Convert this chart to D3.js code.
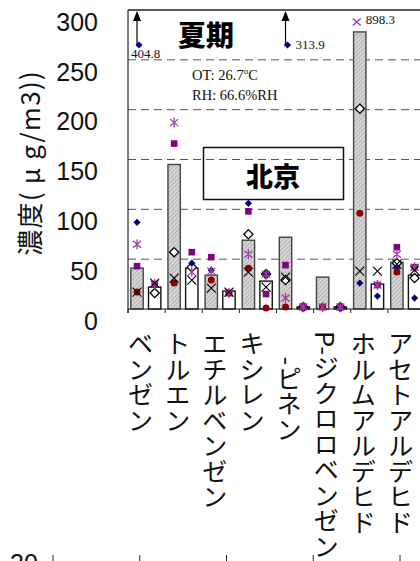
<!DOCTYPE html>
<html>
<head>
<meta charset="utf-8">
<script src="https://cdn.jsdelivr.net/npm/d3@7"></script>
<style>
  html, body { margin: 0; padding: 0; background: #fff; }
  svg { display: block; }
</style>
</head>
<body>
<div id="chart"></div>
<script>
// Summer VOC / aldehyde concentrations, Beijing
const categories = ["ベンゼン", "トルエン", "エチルベンゼン", "キシレン", "　-ピネン", "P-ジクロロベンゼン", "ホルムアルデヒド", "アセトアルデヒド"];
const barKeys = ["g", "w"];
const hatchedBars = [41, 145, 34, 69, 72, 32, 278, 47];
const whiteBars = [22, 41, 18, 28, 2, 2, 25, 34];

// individual samples, [over hatched bar, over white bar] per compound
const navyDiamond = [[87, null], [null, 46], [39, null], [106, 35], [null, 2], [null, 2], [26, 13], [41, 11]];
const purpleSquare = [[43, 25], [166, 57], [52, 16], [98, 15], [44, 2], [2, 2], [null, 24], [62, 42]];
const magentaStar = [[65, 25], [187, 37], [38, 16], [55, 35], [11, 2], [2, 2], [null, 24], [55, 42]];
const redCircle = [[17, null], [26, null], [29, 16], [41, 1], [2, null], [2, null], [96, null], [37, null]];
const blackCross = [[17, 26], [31, 29], [21, 17], [37, 22], [32, null], [null, null], [38, 38], [45, 39]];
const openDiamond = [[null, 16], [57, 42], [null, null], [75, 35], [29, 2], [null, 2], [201, null], [46, 31]];

// samples beyond the axis maximum
const offCategory = ["ベンゼン", "　-ピネン", "ホルムアルデヒド"];
const offSeries = ["navy", "navy", "magenta"];
const offValue = [404.8, 313.9, 898.3];

const yTicks = [0, 50, 100, 150, 200, 250, 300];
const gridValues = [50, 100, 150, 200, 250];

const W = 420, H = 561;
const plot = { left: 128, right: 425, top: 10, bottom: 309 };

const svg = d3.select("#chart").append("svg").attr("width", W).attr("height", H);

const defs = svg.append("defs");
const pat = defs.append("pattern").attr("id", "hatch").attr("patternUnits", "userSpaceOnUse")
  .attr("width", 3).attr("height", 3).attr("patternTransform", "rotate(45)");
pat.append("rect").attr("width", 3).attr("height", 3).attr("fill", "#d6d6d6");
pat.append("line").attr("x1", 0).attr("y1", 0).attr("x2", 0).attr("y2", 3).attr("stroke", "#9a9a9a").attr("stroke-width", 1.2);

const x = d3.scaleBand().domain(categories).range([plot.left, plot.right]).padding(0);
const xi = d3.scaleBand().domain(barKeys).range([0, x.bandwidth()]).paddingInner(0.3).paddingOuter(0.2).align(0.4);
const y = d3.scaleLinear().domain([0, 300]).range([plot.bottom, plot.top]);
const cx = (c, k) => x(c) + xi(k) + xi.bandwidth() / 2;

// dashed grid
svg.append("g").selectAll("line").data(gridValues).join("line")
  .attr("x1", plot.left).attr("x2", W).attr("y1", d => y(d)).attr("y2", d => y(d))
  .attr("stroke", "#555").attr("stroke-width", 1).attr("stroke-dasharray", "8,5");

// bars
const bars = [];
categories.forEach((c, i) => {
  bars.push({ c, k: "g", v: hatchedBars[i] });
  bars.push({ c, k: "w", v: whiteBars[i] });
});
svg.append("g").selectAll("rect").data(bars).join("rect")
  .attr("x", d => x(d.c) + xi(d.k)).attr("width", xi.bandwidth())
  .attr("y", d => y(d.v)).attr("height", d => y(0) - y(d.v))
  .attr("fill", d => d.k === "g" ? "url(#hatch)" : "#fff")
  .attr("stroke", d => d.k === "g" ? "#444" : "#111").attr("stroke-width", 1.4);

// frame
svg.append("line").attr("x1", plot.left).attr("x2", plot.left).attr("y1", plot.top).attr("y2", plot.bottom + 4)
  .attr("stroke", "#222").attr("stroke-width", 1.2);
svg.append("line").attr("x1", plot.left).attr("x2", W).attr("y1", plot.top).attr("y2", plot.top)
  .attr("stroke", "#222").attr("stroke-width", 1.5);

// x axis
const xAxis = svg.append("g").attr("transform", `translate(0,${plot.bottom})`);
xAxis.append("line").attr("x1", plot.left).attr("x2", W).attr("stroke", "#222").attr("stroke-width", 1.2);
xAxis.selectAll("line.tk").data(categories).join("line").attr("class", "tk")
  .attr("x1", d => x(d)).attr("x2", d => x(d)).attr("y1", 0).attr("y2", 4)
  .attr("stroke", "#222").attr("stroke-width", 1);

// y tick labels
svg.append("g").selectAll("text").data(yTicks).join("text")
  .attr("x", 98).attr("y", d => y(d) + 12).attr("dy", "0.35em")
  .attr("text-anchor", "end").attr("font-family", "Liberation Sans, Arial, sans-serif")
  .attr("font-size", 25).attr("fill", "#111").text(d => d);

// y title
svg.append("text").attr("transform", "translate(40,163) rotate(-90)")
  .attr("text-anchor", "middle").attr("font-family", "Noto Sans CJK JP, sans-serif")
  .attr("font-size", 26).attr("letter-spacing", 1.2).attr("fill", "#111").text("濃度( μ g/m3))");

// category labels, vertical
svg.append("g").selectAll("text").data(categories).join("text")
  .attr("x", d => x(d) + x.bandwidth() / 2 - 6).attr("y", 331)
  .style("writing-mode", "vertical-rl")
  .attr("font-family", "Noto Sans CJK JP, sans-serif").attr("font-size", 25.5)
  .attr("fill", "#111").text(d => d);

// marker shapes
const diamondPath = r => `M0,${-r}L${r},0L0,${r}L${-r},0Z`;
function drawSeries(data, draw) {
  const pts = [];
  categories.forEach((c, i) => barKeys.forEach((k, j) => {
    const v = data[i][j];
    if (v != null) pts.push({ x: cx(c, k), y: y(v) });
  }));
  const g = svg.append("g");
  pts.forEach(p => draw(g.append("g").attr("transform", `translate(${p.x},${p.y})`)));
}
const drawOpenDiamond = g => g.append("path").attr("d", diamondPath(4.6)).attr("fill", "#fff").attr("stroke", "#000").attr("stroke-width", 1.3);
const drawNavy = g => g.append("path").attr("d", diamondPath(3.6)).attr("fill", "#00007a");
const drawSquare = g => g.append("rect").attr("x", -3.3).attr("y", -3.3).attr("width", 6.6).attr("height", 6.6).attr("fill", "#800080");
const drawCircle = g => g.append("circle").attr("r", 3.5).attr("fill", "#8b0000");
const drawStar = g => g.append("path").attr("d", "M-4,-3.5L4,3.5M-4,3.5L4,-3.5M0,-5L0,5").attr("stroke", "#a43aa8").attr("stroke-width", 1.3).attr("fill", "none");
const drawMagentaCross = g => g.append("path").attr("d", "M-4,-3.5L4,3.5M-4,3.5L4,-3.5").attr("stroke", "#a43aa8").attr("stroke-width", 1.4).attr("fill", "none");
const drawCross = g => g.append("path").attr("d", "M-4.5,-4.5L4.5,4.5M-4.5,4.5L4.5,-4.5").attr("stroke", "#000").attr("stroke-width", 1.1).attr("fill", "none");

drawSeries(openDiamond, drawOpenDiamond);
drawSeries(navyDiamond, drawNavy);
drawSeries(purpleSquare, drawSquare);
drawSeries(redCircle, drawCircle);
drawSeries(magentaStar, drawStar);
drawSeries(blackCross, drawCross);

// off-scale samples: pinned near the top of the frame with their values
const offG = svg.append("g");
offCategory.forEach((c, i) => {
  const px = cx(c, "g");
  const serif = "Liberation Serif, Times New Roman, serif";
  if (offSeries[i] === "navy") {
    const my = y(300) + 35;
    offG.append("line").attr("x1", px).attr("x2", px).attr("y1", my).attr("y2", y(300) + 9)
      .attr("stroke", "#000").attr("stroke-width", 1.2);
    offG.append("path").attr("d", `M${px - 4},${y(300) + 11}L${px + 4},${y(300) + 11}L${px},${y(300) + 1}Z`).attr("fill", "#000");
    drawNavy(offG.append("g").attr("transform", `translate(${px + 2},${my})`));
    const below = i === 0;
    offG.append("text").attr("x", below ? px - 6 : px + 10).attr("y", below ? my + 13 : my + 4)
      .attr("font-family", serif).attr("font-size", 13).attr("fill", "#111").text(offValue[i]);
  } else {
    const my = y(300) + 12;
    drawMagentaCross(offG.append("g").attr("transform", `translate(${px - 3},${my})`));
    offG.append("text").attr("x", px + 6).attr("y", my + 2)
      .attr("font-family", serif).attr("font-size", 13).attr("fill", "#111").text(offValue[i]);
  }
});

// season and climate notes
svg.append("text").attr("x", 178).attr("y", 46).attr("font-family", "Noto Sans CJK JP, sans-serif")
  .attr("font-weight", 900).attr("font-size", 28).attr("fill", "#000").text("夏期");
const ot = svg.append("text").attr("x", 192).attr("y", 80).attr("font-family", "Liberation Serif, Times New Roman, serif")
  .attr("font-size", 14.5).attr("fill", "#111");
ot.append("tspan").text("OT: 26.7");
ot.append("tspan").attr("font-size", 9).attr("dy", -6).text("o");
ot.append("tspan").attr("dy", 6).text("C");
svg.append("text").attr("x", 192).attr("y", 100).attr("font-family", "Liberation Serif, Times New Roman, serif")
  .attr("font-size", 14.5).attr("fill", "#111").text("RH: 66.6%RH");

svg.append("rect").attr("x", 203.5).attr("y", 147.5).attr("width", 140).attr("height", 52)
  .attr("fill", "none").attr("stroke", "#111").attr("stroke-width", 1.5);
svg.append("text").attr("x", 273).attr("y", 187).attr("text-anchor", "middle")
  .attr("font-family", "Noto Sans CJK JP, sans-serif").attr("font-weight", 900)
  .attr("font-size", 27).attr("fill", "#000").text("北京");

// top edge of the following panel
const nextTicks = [0, 1, 2, 3, 4];
const nx = d3.scaleLinear().domain([0, 4]).range([53, 400]);
svg.append("g").selectAll("line").data(nextTicks).join("line")
  .attr("x1", d => nx(d)).attr("x2", d => nx(d)).attr("y1", 555).attr("y2", H)
  .attr("stroke", "#222").attr("stroke-width", 1);
svg.append("text").attr("x", 10).attr("y", 572).attr("font-family", "Liberation Sans, Arial, sans-serif")
  .attr("font-size", 25).attr("fill", "#111").text("30");
</script>
</body>
</html>
